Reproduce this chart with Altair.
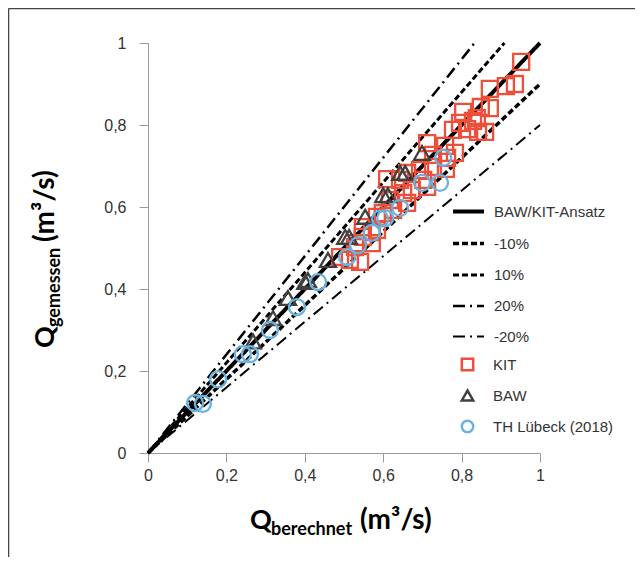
import altair as alt
import pandas as pd

# ---------------- data ----------------
kit_x = [0.952, 0.872, 0.913, 0.936, 0.804, 0.849, 0.872, 0.839, 0.829, 0.778,
         0.814, 0.842, 0.860, 0.796, 0.712, 0.758, 0.783, 0.727, 0.763, 0.727,
         0.694, 0.760, 0.661, 0.702, 0.643, 0.610, 0.673, 0.651, 0.712, 0.617,
         0.661, 0.625, 0.599, 0.584, 0.548, 0.584, 0.548, 0.533, 0.571, 0.515,
         0.490, 0.541, 0.528, 0.571]
kit_y = [0.954, 0.888, 0.895, 0.900, 0.832, 0.844, 0.841, 0.817, 0.810, 0.788,
         0.790, 0.783, 0.783, 0.805, 0.756, 0.749, 0.732, 0.727, 0.720, 0.698,
         0.690, 0.693, 0.683, 0.666, 0.666, 0.668, 0.641, 0.634, 0.649, 0.617,
         0.610, 0.593, 0.585, 0.576, 0.551, 0.544, 0.527, 0.512, 0.512, 0.471,
         0.478, 0.466, 0.502, 0.539]

baw_x = [0.699, 0.643, 0.656, 0.600, 0.612, 0.554, 0.503, 0.513, 0.459, 0.408,
         0.401, 0.357, 0.319, 0.268]
baw_y = [0.732, 0.683, 0.683, 0.629, 0.629, 0.576, 0.527, 0.527, 0.471, 0.422,
         0.417, 0.378, 0.329, 0.272]

th_x = [0.753, 0.699, 0.745, 0.643, 0.605, 0.592, 0.571, 0.536, 0.508, 0.434,
        0.380, 0.311, 0.242, 0.260, 0.179, 0.120, 0.140]
th_y = [0.720, 0.659, 0.659, 0.598, 0.573, 0.571, 0.537, 0.507, 0.478, 0.417,
        0.356, 0.300, 0.241, 0.241, 0.180, 0.122, 0.120]

sources = ["KIT", "BAW", "TH Lübeck (2018)"]
source_colors = ["#EE4F3A", "#404040", "#6AB2DF"]
source_shapes = ["square", "triangle-up", "circle"]

line_names = ["BAW/KIT-Ansatz", "-10%", "10%", "20%", "-20%"]
line_x_end = [1.0, 1.0, 0.909, 0.833, 1.0]
line_y_end = [1.0, 0.9, 1.0, 1.0, 0.8]
line_dashes = [[1, 0], [6, 3], [6, 3], [12, 5, 2, 5], [12, 5, 2, 5]]
line_widths = [4, 2, 2, 2, 2]

ticks = [0, 0.2, 0.4, 0.6, 0.8, 1.0]

# ---------------- tables ----------------
rows = []
i = 0
for name, xs, ys in [("KIT", kit_x, kit_y), ("BAW", baw_x, baw_y),
                     ("TH Lübeck (2018)", th_x, th_y)]:
    for x, y in zip(xs, ys):
        rows.append({"source": name, "x": x, "y": y, "idx": i})
        i += 1
pts_df = pd.DataFrame(rows)

lrows = []
for n, xe, ye in zip(line_names, line_x_end, line_y_end):
    lrows.append({"series": n, "x": 0.0, "y": 0.0})
    lrows.append({"series": n, "x": xe, "y": ye})
line_df = pd.DataFrame(lrows)

one = pd.DataFrame({"d": [0]})

FONT = "Liberation Sans"
TFONT = "Lato"

xscale = alt.Scale(domain=[0, 1], nice=False, zero=True)
yscale = alt.Scale(domain=[0, 1], nice=False, zero=True)
label_expr = "replace(format(datum.value, '~g'), '.', ',')"

xaxis = alt.Axis(values=ticks, labelExpr=label_expr, title=None, grid=False,
                 tickSize=9, tickColor="#9a9a9a", domainColor="#9a9a9a",
                 labelFontSize=16, labelFont=FONT, labelColor="#333333",
                 labelPadding=5, labelFlush=False, labelOverlap=False)
yaxis = alt.Axis(values=ticks, labelExpr=label_expr, title=None, grid=False,
                 tickSize=9, tickColor="#9a9a9a", domainColor="#9a9a9a",
                 labelFontSize=16, labelFont=FONT, labelColor="#333333",
                 labelPadding=13, labelFlush=False, labelOverlap=False)

line_legend = alt.Legend(title=None, orient="none", legendX=303, legendY=151,
                         symbolType="stroke", symbolSize=961,
                         symbolStrokeColor="black", labelFont=FONT,
                         labelFontSize=15, labelColor="#333333",
                         labelOffset=8, rowPadding=6, padding=0)
pt_legend = alt.Legend(title=None, orient="none", legendX=312, legendY=314,
                       symbolSize=130, symbolStrokeWidth=2.5,
                       symbolFillColor="transparent",
                       labelFont=FONT, labelFontSize=15, labelColor="#333333",
                       labelOffset=18, rowPadding=9, padding=0)

points = alt.Chart(pts_df).mark_point(filled=False, strokeWidth=2.3, size=255,
                                      opacity=1).encode(
    x=alt.X("x:Q", scale=xscale, axis=xaxis),
    y=alt.Y("y:Q", scale=yscale, axis=yaxis),
    shape=alt.Shape("source:N", scale=alt.Scale(domain=sources, range=source_shapes),
                    legend=pt_legend),
    color=alt.Color("source:N", scale=alt.Scale(domain=sources, range=source_colors),
                    legend=pt_legend),
    order=alt.Order("idx:Q"),
)

lines = alt.Chart(line_df).mark_line(color="black").encode(
    x=alt.X("x:Q", scale=xscale, axis=xaxis),
    y=alt.Y("y:Q", scale=yscale, axis=yaxis),
    detail="series:N",
    strokeDash=alt.StrokeDash("series:N",
                              scale=alt.Scale(domain=line_names, range=line_dashes),
                              legend=line_legend),
    strokeWidth=alt.StrokeWidth("series:N",
                                scale=alt.Scale(domain=line_names, range=line_widths),
                                legend=line_legend),
)

# frame around figure
frame_top = alt.Chart(one).mark_rule(color="#444444", strokeWidth=1.5).encode(
    x=alt.value(-139.5), x2=alt.value(600), y=alt.value(-34.5))
frame_left = alt.Chart(one).mark_rule(color="#444444", strokeWidth=1.5).encode(
    x=alt.value(-139.5), y=alt.value(-34.5), y2=alt.value(600))

def txt(t, x, y, size, angle=0):
    return alt.Chart(one).mark_text(text=t, font=TFONT, fontWeight="bold",
                                    fontSize=size, align="left",
                                    baseline="alphabetic", angle=angle,
                                    color="black").encode(
        x=alt.value(x), y=alt.value(y))

xt1 = txt("Q", 102, 486, 27)
xt2 = txt("berechnet", 123, 492, 18)
xt3 = txt("(m³/s)", 212, 486, 28)

yt1 = txt("Q", -94, 305, 27, 270)
yt2 = txt("gemessen", -88, 284, 18, 270)
yt3 = txt("(m³/s)", -94, 199, 28, 270)

chart = alt.layer(lines, points, frame_top, frame_left, xt1, xt2, xt3, yt1, yt2, yt3).properties(
    width=392, height=410,
    autosize=alt.AutoSizeParams(type="none"),
    padding={"left": 140, "top": 35, "right": 95, "bottom": 104},
).configure_view(stroke=None)

chart.save("out.html", embed_options={"renderer": "svg", "actions": False})
